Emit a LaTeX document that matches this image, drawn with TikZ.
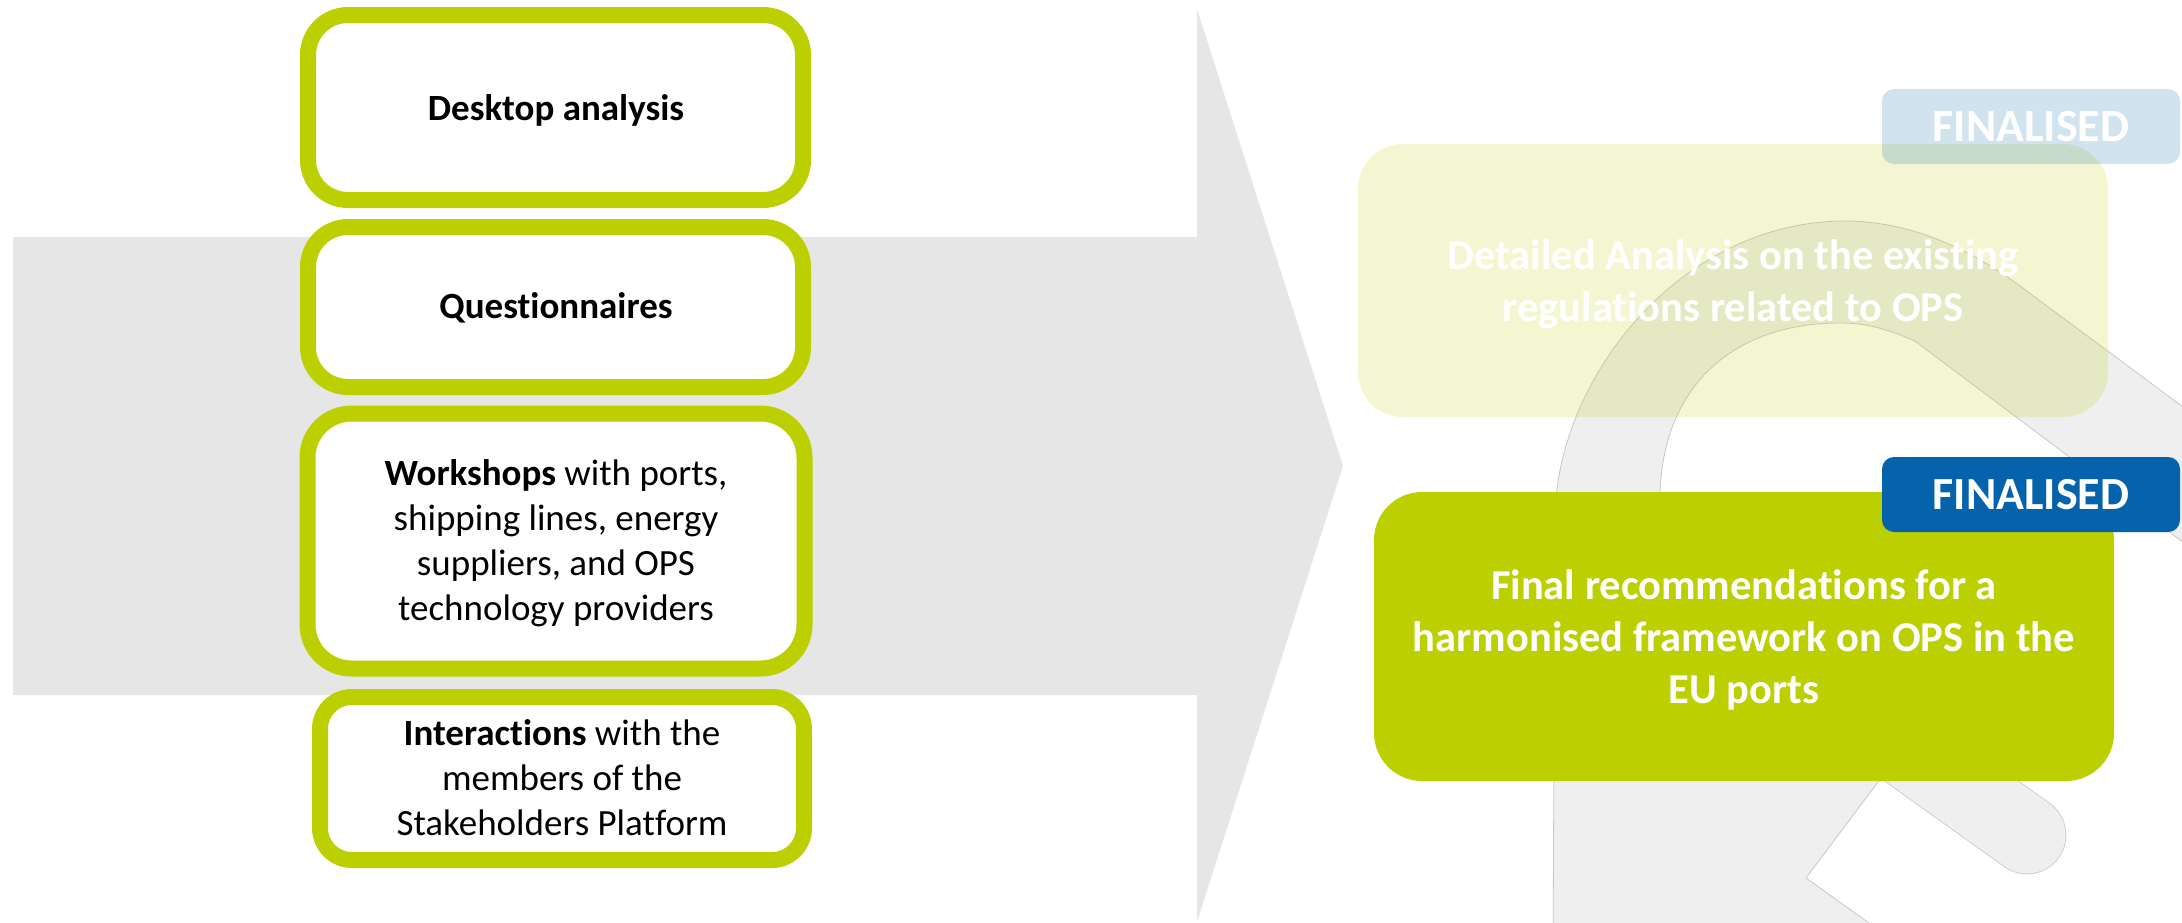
\documentclass[tikz,border=0pt]{standalone}
\usepackage{fontspec}
\setmainfont{Carlito}[Ligatures=NoCommon]
\definecolor{lime}{RGB}{188,207,0}
\definecolor{opsblue}{RGB}{5,99,172}
\definecolor{arrowgray}{RGB}{230,230,230}
\definecolor{qfill}{RGB}{239,239,239}
\definecolor{qedge}{RGB}{200,200,200}
\begin{document}
\begin{tikzpicture}[x=1pt,y=-1pt,
  leftbox/.style={draw=lime, line width=16pt, fill=white, rounded corners=40pt, inner sep=0pt},
  lefttext/.style={align=center, inner sep=0pt, text=black, anchor=base, font=\fontsize{37}{45}\selectfont},
  resultbox/.style={align=center, inner sep=0pt, text=white, anchor=base,
    font=\bfseries\fontsize{42.5}{52}\selectfont},
  tagbox/.style={rounded corners=12pt, inner sep=0pt, text=white,
    minimum width=298pt, minimum height=75pt, font=\bfseries\fontsize{46}{54}\selectfont},
  qedgeline/.style={draw=qedge, line width=0.8pt}]
\useasboundingbox (0,0) rectangle (2182,922);

% big grey arrow
\fill[arrowgray] (13,237) -- (1197,237) -- (1197,9) -- (1343,466) -- (1197,922) -- (1197,695) -- (13,695) -- cycle;

% left boxes
\node[leftbox, minimum width=495pt, minimum height=185pt] (desk) at (555.5,107.5) {};
\node[leftbox, minimum width=495pt, minimum height=160pt] (quest) at (555.5,307) {};
\node[leftbox, minimum width=497pt, minimum height=255pt, rounded corners=44pt] (work) at (556,541) {};
\node[leftbox, minimum width=484pt, minimum height=163pt, rounded corners=32pt] (inter) at (562,778.5) {};
% left texts (anchor = baseline of the last line)
\node[lefttext, font=\bfseries\fontsize{37}{45}\selectfont] (desktxt) at (556,120) {Desktop analysis};
\node[lefttext, font=\bfseries\fontsize{37}{45}\selectfont] (questtxt) at (556,318) {Questionnaires};
\node[lefttext] (worktxt) at (556,620)
  {\textbf{Workshops} with ports,\\shipping lines, energy\\suppliers, and OPS\\technology providers};
\node[lefttext] (intertxt) at (562,835)
  {\textbf{Interactions} with the\\members of the\\Stakeholders Platform};

% background logo shape
\begin{scope}
\clip (0,0) rectangle (2182,922);
\fill[qfill] (1553,960) -- (1555,520) .. controls (1555,380) and (1680,221) .. (1845,221)
  .. controls (1905,221) and (1965,245) .. (2020,286) -- (2260,464) -- (2260,960) -- cycle;
\fill[white] (2260,600) -- (1915,341) .. controls (1885,328) and (1865,323) .. (1840,323)
  .. controls (1730,323) and (1660,390) .. (1660,500) -- (1656,740) -- (1881,778)
  -- (1806,878) -- (1904,948) -- (2260,960) -- cycle;
\draw[qedgeline] (1553,960) -- (1555,520) .. controls (1555,380) and (1680,221) .. (1845,221)
  .. controls (1905,221) and (1965,245) .. (2020,286) -- (2260,464);
\draw[qedgeline] (2260,600) -- (1915,341) .. controls (1885,328) and (1865,323) .. (1840,323)
  .. controls (1730,323) and (1660,390) .. (1660,500) -- (1656,740) -- (1881,778)
  -- (1806,878) -- (1904,948);
\coordinate (ts) at (1816,684);
\coordinate (te) at (2027,835);
\draw[qedge, line width=78.6pt, line cap=round] (ts) -- (te);
\draw[qfill, line width=77pt, line cap=round] (ts) -- (te);
\end{scope}

% right boxes
\node[fill=lime, fill opacity=0.18, rounded corners=45pt, minimum width=750pt, minimum height=273pt] (detail) at (1733,280.5) {};
\node[resultbox] (detailtxt) at (1733,321)
  {Detailed Analysis on the existing\\regulations related to OPS};
\node[tagbox, fill=opsblue, fill opacity=0.18, text opacity=1] (tag1) at (2031,126.5) {FINALISED};
\node[fill=lime, rounded corners=48pt, minimum width=740pt, minimum height=289pt] (final) at (1744,636.5) {};
\node[resultbox] (finaltxt) at (1744,703)
  {Final recommendations for a\\harmonised framework on OPS in the\\EU ports};
\node[tagbox, fill=opsblue] (tag2) at (2031,494.5) {FINALISED};
\end{tikzpicture}
\end{document}
